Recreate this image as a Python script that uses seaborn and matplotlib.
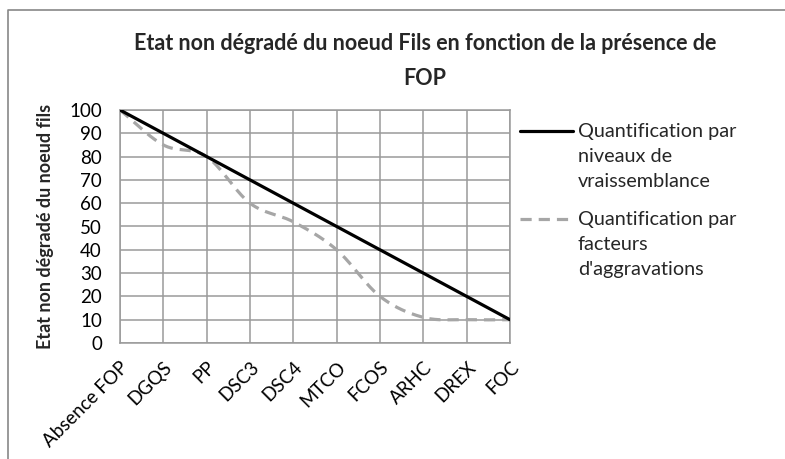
import numpy as np
import pandas as pd
import matplotlib
matplotlib.use("Agg")
import matplotlib.pyplot as plt
from matplotlib.lines import Line2D
import seaborn as sns

categories = ["Absence FOP", "DGQS", "PP", "DSC3", "DSC4", "MTCO", "FCOS", "ARHC", "DREX", "FOC"]
niveaux_vraissemblance = [100, 90, 80, 70, 60, 50, 40, 30, 20, 10]
facteurs_aggravation = [100, 85, 80, 60, 52, 40, 20, 11, 10, 10]
y_ticks = list(range(0, 101, 10))

title = "Etat non dégradé du noeud Fils en fonction de la présence de\nFOP"
y_label = "Etat non dégradé du noeud fils"
label_niveaux = "Quantification par\nniveaux de\nvraissemblance"
label_facteurs = "Quantification par\nfacteurs\nd'aggravations"

sns.set_theme(style="white")
plt.rcParams["font.family"] = ["Lato", "DejaVu Sans"]

W, H = 785, 459
fig = plt.figure(figsize=(W / 100, H / 100), dpi=100)
ax = fig.add_axes([120 / W, 1 - 343 / H, (510 - 120) / W, (343 - 110) / H])


def catmull_rom(xs, ys, n=30):
    """Smooth curve through the points (uniform Catmull-Rom spline)."""
    px = np.concatenate([[2 * xs[0] - xs[1]], xs, [2 * xs[-1] - xs[-2]]])
    py = np.concatenate([[2 * ys[0] - ys[1]], ys, [2 * ys[-1] - ys[-2]]])
    out_x, out_y = [], []
    t = np.linspace(0, 1, n, endpoint=False)
    for i in range(1, len(px) - 2):
        for p, out in ((px, out_x), (py, out_y)):
            p0, p1, p2, p3 = p[i - 1], p[i], p[i + 1], p[i + 2]
            out.extend(0.5 * ((2 * p1) + (-p0 + p2) * t
                              + (2 * p0 - 5 * p1 + 4 * p2 - p3) * t ** 2
                              + (-p0 + 3 * p1 - 3 * p2 + p3) * t ** 3))
    out_x.append(xs[-1])
    out_y.append(ys[-1])
    return np.array(out_x), np.array(out_y)


pos = np.arange(len(categories), dtype=float)
df_niv = pd.DataFrame({"x": pos, "y": niveaux_vraissemblance})
sx, sy = catmull_rom(pos, np.array(facteurs_aggravation, dtype=float))
df_fac = pd.DataFrame({"x": sx, "y": sy})

grid_col = "#9a9a9a"
gray_line = "#a6a6a6"
dash = (0, (3.5, 2.2))
sns.lineplot(data=df_fac, x="x", y="y", ax=ax, color=gray_line, lw=2.3,
             linestyle=dash, sort=False, zorder=3)
sns.lineplot(data=df_niv, x="x", y="y", ax=ax, color="black", lw=2.3, zorder=4)

ax.set_xlim(0, len(categories) - 1)
ax.set_ylim(0, 100)
ax.set_yticks(y_ticks)
ax.set_yticklabels([str(v) for v in y_ticks])
ax.set_xticks(pos)
ax.set_xticklabels(categories, rotation=45, ha="right", rotation_mode="anchor")
ax.tick_params(axis="both", length=0, labelsize=13.5, colors="black")
ax.tick_params(axis="y", pad=13)
ax.tick_params(axis="x", pad=11)
ax.grid(True, color=grid_col, lw=1.1)
for s in ax.spines.values():
    s.set_color(grid_col)
    s.set_linewidth(1.1)
ax.set_xlabel("")
ax.set_ylabel(y_label, fontsize=13, fontweight="bold", labelpad=11)

fig.text(425 / W, 1 - 61 / H, title, ha="center", va="center", fontsize=15.5,
         fontweight="bold", linespacing=1.85)

# legend drawn as separate handle/text pairs
leg_items = [(label_niveaux, dict(color="black", lw=2.3), 131),
             (label_facteurs, dict(color=gray_line, lw=2.3, linestyle=dash), 219)]
for text, style, yy in leg_items:
    fig.add_artist(Line2D([520 / W, 573 / W], [1 - yy / H, 1 - yy / H],
                          transform=fig.transFigure, **style))
    fig.text(578 / W, 1 - (yy - 8) / H, text, ha="left", va="top",
             fontsize=14.3, linespacing=1.58)

# chart area border
fig.add_artist(Line2D([8 / W, 8 / W, 1.0], [0.0, 1 - 10 / H, 1 - 10 / H],
                      transform=fig.transFigure, color="#888888", lw=1.2))

fig.savefig("out.png", dpi=100)
